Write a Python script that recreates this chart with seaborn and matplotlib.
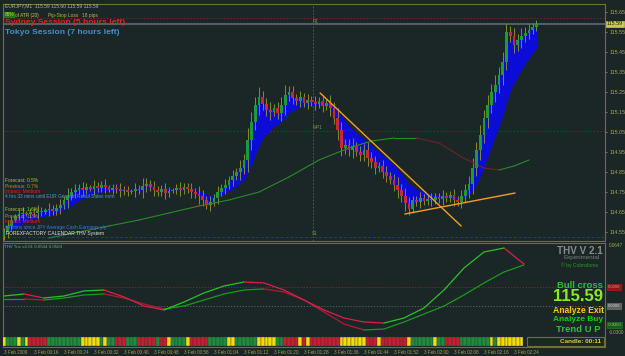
import numpy as np
import pandas as pd
import matplotlib
matplotlib.use('Agg')
import matplotlib.pyplot as plt
import matplotlib.transforms as mtransforms
from matplotlib.patches import Rectangle
import seaborn as sns

# ---------------- data ----------------
closes = [
    114.55, 114.58, 114.61, 114.63, 114.64,
    114.645, 114.64, 114.65, 114.645, 114.655, 114.65,
    114.66, 114.665, 114.655, 114.67, 114.685, 114.71,
    114.73, 114.75, 114.76, 114.77, 114.76,
    114.775, 114.765, 114.78, 114.77, 114.785, 114.775, 114.76, 114.77, 114.765, 114.755,
    114.76, 114.75, 114.755, 114.765, 114.76,
    114.78, 114.79, 114.775, 114.76, 114.75, 114.765, 114.745, 114.755, 114.76, 114.77,
    114.76, 114.775, 114.765, 114.75, 114.74, 114.73,
    114.71, 114.685, 114.70, 114.72,
    114.75, 114.77, 114.785, 114.81, 114.83, 114.85, 114.87, 114.91,
    115.01, 115.10, 115.185, 115.225,
    115.19, 115.16, 115.15, 115.17, 115.145,
    115.185, 115.235, 115.25, 115.22,
    115.205, 115.225, 115.195, 115.21, 115.20,
    115.19, 115.205, 115.18, 115.195, 115.17,
    115.12, 115.06, 114.97, 114.985,
    114.96, 114.98, 114.95, 114.935, 114.96, 114.92,
    114.90, 114.87, 114.88, 114.85,
    114.83, 114.81, 114.785, 114.76,
    114.73, 114.695, 114.665,
    114.71, 114.70, 114.72, 114.705, 114.715, 114.71, 114.725, 114.715,
    114.73, 114.72, 114.735, 114.71, 114.70,
    114.73, 114.76, 114.79,
    114.87, 114.96, 115.035,
    115.12, 115.185, 115.25,
    115.285, 115.335, 115.40,
    115.55, 115.53, 115.485,
    115.51, 115.53, 115.545,
    115.56, 115.575, 115.59,
]
first_open = 114.53
wick_pips = [
    2, 3, 2, 1, 2, 3, 1, 2, 2, 3,
    2, 1, 3, 2, 2, 3, 2, 4, 2, 3,
    2, 3, 2, 1, 3, 2, 2, 3, 1, 2,
    2, 3, 2, 2, 1, 3, 2, 4, 3, 2,
    3, 2, 2, 3, 2, 1, 2, 3, 2, 2,
    3, 2, 4, 3, 2, 3, 2, 3, 2, 3,
    2, 3, 2, 4, 3, 6, 5, 4, 5, 3,
    3, 4, 2, 3, 4, 5, 3, 3, 2, 3,
    2, 3, 2, 3, 2, 3, 2, 4, 3, 5,
    4, 3, 3, 4, 2, 3, 3, 4, 3, 3,
    2, 3, 3, 2, 3, 4, 3, 4, 3, 2,
    2, 3, 2, 2, 3, 2, 2, 3, 2, 2,
    3, 2, 3, 3, 4, 5, 4, 5, 4, 5,
    4, 5, 4, 5, 4, 3, 4, 3, 4, 3,
    3, 2, 2,
]
ma_idx = [12, 20, 28, 36, 44, 52, 60, 68, 76, 84, 92, 98, 104, 110, 116, 122, 128, 132, 136, 140]
ma_vals = [114.52, 114.55, 114.58, 114.61, 114.645, 114.68, 114.71, 114.75, 114.825, 114.91,
           114.97, 115.005, 115.02, 115.02, 114.995, 114.925, 114.87, 114.86, 114.88, 114.91]

trix_fast = [0.0105, 0.0126, 0.0084, 0.0105, 0.0158, 0.0168, 0.0095, 0.0, -0.0042, 0.0042,
             0.0137, 0.0210, 0.0252, 0.0242, 0.0168, 0.0063, -0.0042, -0.0126, -0.0168, -0.0179,
             -0.0126, -0.0021, 0.0168, 0.0399, 0.0567, 0.0609, 0.0441]
trix_slow = [0.0074, 0.0074, 0.0063, 0.0084, 0.0116, 0.0126, 0.0084, 0.0021, -0.0032, 0.0,
             0.0063, 0.0126, 0.0168, 0.0179, 0.0147, 0.0063, -0.0063, -0.0189, -0.0252, -0.0242,
             -0.0168, -0.0084, 0.0, 0.0116, 0.0242, 0.0357, 0.0431]

strip_runs = [('Y', 1), ('G', 3), ('Y', 1), ('G', 1), ('Y', 1), ('R', 5), ('G', 9), ('Y', 5),
              ('G', 1), ('Y', 1), ('G', 2), ('R', 3), ('G', 3), ('R', 5), ('G', 1), ('R', 2),
              ('Y', 1), ('G', 4), ('Y', 1), ('R', 5), ('G', 5), ('Y', 2), ('G', 6), ('Y', 5),
              ('G', 2), ('R', 4), ('Y', 1), ('R', 1), ('Y', 1), ('R', 8), ('Y', 7), ('R', 3),
              ('Y', 1), ('R', 7), ('Y', 1), ('G', 6), ('Y', 1), ('G', 2), ('R', 4), ('G', 8),
              ('Y', 1), ('G', 1), ('Y', 7)]

date_labels = ["3 Feb 2009", "3 Feb 00:16", "3 Feb 00:24", "3 Feb 00:32", "3 Feb 00:40",
               "3 Feb 00:48", "3 Feb 00:56", "3 Feb 01:04", "3 Feb 01:12", "3 Feb 01:20",
               "3 Feb 01:28", "3 Feb 01:36", "3 Feb 01:44", "3 Feb 01:52", "3 Feb 02:00",
               "3 Feb 02:08", "3 Feb 02:16", "3 Feb 02:24"]
price_ticks = [115.65, 115.55, 115.45, 115.35, 115.25, 115.15, 115.05,
               114.95, 114.85, 114.75, 114.65, 114.55]
last_price = 115.59
r1_level, mp_level, s1_level = 115.62, 115.055, 114.525
sep_idx = 82.4
trend1_idx, trend1_px = [84.3, 121.9], [115.245, 114.58]
trend2_idx, trend2_px = [106.9, 136.3], [114.64, 114.745]
trix_levels = [0.02, 0.0]

# ---------------- style ----------------
BG = '#1b2727'
OLIVE = '#707030'
sns.set_theme(style='dark', rc={'axes.facecolor': BG, 'figure.facecolor': BG})
plt.rcParams['font.family'] = ['Liberation Sans', 'DejaVu Sans']

W, H = 625, 356
fig = plt.figure(figsize=(W / 100, H / 100), dpi=100)
fig.patch.set_facecolor(BG)

ax = fig.add_axes([3 / W, 1 - 241 / H, 602 / W, 237 / H])
axl = fig.add_axes([3 / W, 1 - 347 / H, 602 / W, 104 / H], sharex=ax)
for a in (ax, axl):
    a.set_facecolor(BG)
    for s in a.spines.values():
        s.set_color(OLIVE)
        s.set_linewidth(0.8)
    a.grid(False)

# ---------------- main panel ----------------
idx = np.arange(len(closes))
c = np.array(closes)
o = np.array([first_open] + closes[:-1])
w = np.array(wick_pips) * 0.01
hi = np.maximum(o, c) + w
lo = np.minimum(o, c) - w

s = pd.Series(c)
band_fast = s.ewm(span=2, adjust=False).mean().values
band_slow = s.ewm(span=11, adjust=False).mean().values
ax.fill_between(idx, band_fast, band_slow, color='#0c0cd8', lw=0.6, edgecolor='#0c0cd8', zorder=2)

ax.vlines(idx, lo, hi, color='#9a9a30', lw=0.6, zorder=3)
up = c >= o
body = np.maximum(np.abs(c - o), 0.003)
ax.bar(idx, body, bottom=np.minimum(o, c), width=0.72,
       color=np.where(up, '#1c9a3c', '#c8283c'), lw=0, zorder=4)

# moving average with slope colouring
ma_x = np.array(ma_idx, dtype=float)
ma_y = np.array(ma_vals)
for k in range(len(ma_x) - 1):
    col = '#2a8a2a' if ma_y[k + 1] >= ma_y[k] else '#6e2424'
    sns.lineplot(x=ma_x[k:k + 2], y=ma_y[k:k + 2], ax=ax, color=col, lw=0.8,
                 legend=False, sort=False, estimator=None, zorder=3)

# levels
ax.axhline(last_price, color='#56666c', lw=1.3, zorder=1)
ax.axhline(r1_level, color='#7a2626', lw=0.6, ls=(0, (2, 2)), zorder=1)
ax.axhline(mp_level, color='#6a2a2a', lw=0.6, ls=(0, (2, 2)), zorder=1)
ax.axhline(s1_level, color='#2030c8', lw=0.7, ls=(0, (3, 2)), zorder=1)
ax.axvline(sep_idx, color='#56606a', lw=0.6, ls=(0, (2, 2)), zorder=1)
ax.text(sep_idx - 0.2, r1_level - 0.005, 'R1', fontsize=3.4, color='#8a8a40', va='top')
ax.text(sep_idx - 0.2, mp_level + 0.005, 'MP1', fontsize=3.4, color='#8a8a40', va='bottom')
ax.text(sep_idx - 0.2, s1_level + 0.003, 'S1', fontsize=3.4, color='#8a8a40', va='bottom')

# trend lines
for tx_, ty_ in ((trend1_idx, trend1_px), (trend2_idx, trend2_px)):
    sns.lineplot(x=tx_, y=ty_, ax=ax, color='#f0a020', lw=1.0, legend=False,
                 sort=False, estimator=None, zorder=5)

xl = (3 - 4) / 3.75
xr = (605 - 4) / 3.75
ax.set_xlim(xl, xr)
ax.set_ylim(115.71 - 241 / 200, 115.71 - 4 / 200)
ax.set_xlabel('')
ax.set_ylabel('')
ax.yaxis.tick_right()
ax.set_yticks(price_ticks)
ax.set_yticklabels([f'{v:.2f}' for v in price_ticks])
ax.tick_params(axis='y', labelsize=3.8, colors='#a8a860', length=1.5, pad=1.5, width=0.5)
ax.tick_params(axis='x', bottom=False, labelbottom=False)
ax.text(1.003, last_price, f'{last_price:.2f}', transform=ax.get_yaxis_transform(),
        fontsize=3.8, color='#202010', va='center', ha='left',
        bbox=dict(fc='#c8c850', ec='#e0e060', pad=0.6, lw=0.4))

# ---------------- lower panel ----------------
tx = np.linspace(0, 26 * 20 / 3.75, len(trix_fast))


def plot_dir(a, x, y, up_c, dn_c, lw):
    y = np.asarray(y)
    d = np.diff(y) >= 0
    start = 0
    for k in range(1, len(d) + 1):
        if k == len(d) or d[k] != d[start]:
            sl = slice(start, k + 1)
            sns.lineplot(x=x[sl], y=y[sl], ax=a, color=up_c if d[start] else dn_c, lw=lw,
                         legend=False, sort=False, estimator=None, zorder=4)
            start = k


plot_dir(axl, tx, trix_slow, '#1a9a1a', '#b01c34', 0.9)
plot_dir(axl, tx, trix_fast, '#2cc02c', '#d8204a', 0.9)
axl.axhline(trix_levels[0], color='#8a2a2a', lw=0.6, ls=(0, (1.5, 2)), zorder=1)
axl.axhline(trix_levels[1], color='#606868', lw=0.6, ls=(0, (1.5, 2)), zorder=1)

ylo, yhi = (306 - 347) * 0.00105, (306 - 243) * 0.00105
axl.set_ylim(ylo, yhi)
axl.set_xlim(xl, xr)
axl.set_xlabel('')
axl.set_ylabel('')

# colour strip
cmap = {'Y': '#f2dc10', 'G': '#1e8c3c', 'R': '#c42030'}
strip = ''.join(ch * n for ch, n in strip_runs)
sb = ylo + 0.008 * (yhi - ylo)
st = ylo + 0.095 * (yhi - ylo)
axl.bar(np.arange(len(strip)), st - sb, bottom=sb, width=1.0,
        color=[cmap[ch] for ch in strip], edgecolor='#2a3030', lw=0.25, zorder=5)
axl.add_patch(Rectangle(((527 - 3) / 602, 0.008), 1 - (527 - 3) / 602 - 0.002, 0.087,
                        transform=axl.transAxes, fc=BG, ec=OLIVE, lw=0.8, zorder=6))

axl.set_xticks(np.arange(len(date_labels)) * 8)
axl.set_xticklabels(date_labels, ha='left')
axl.tick_params(axis='x', labelsize=3.3, colors='#a0a060', length=1.5, pad=1, width=0.5)
axl.set_yticks([])

# ---------------- texts ----------------
def ftext(x, y, s, **kw):
    fig.text(x / W, 1 - y / H, s, va='center', **kw)


ftext(5, 5.5, 'EURJPY,M1  115.59 115.60 115.59 115.59', fontsize=3.6, color='#b0b0b0')
ftext(5, 15, '86%', fontsize=3.4, color='#d0d050',
      bbox=dict(fc='#1a7a1a', ec='none', pad=0.4))
ftext(15, 15, 'of ATR (20)', fontsize=3.4, color='#c8c850')
ftext(48, 15, 'Pip-Stop Loss', fontsize=3.4, color='#b8b840')
ftext(82, 15, '18 pips', fontsize=3.4, color='#b8b840')
ftext(5, 22, 'Sydney Session (5 hours left)', fontsize=6.1, fontweight='bold', color='#e02424')
ftext(5, 32, 'Tokyo Session (7 hours left)', fontsize=6.1, fontweight='bold', color='#4a8cc8')

news = [
    (180, 'Forecast: 0.5%', '#b0c040'),
    (186, 'Previous: 0.7%', '#d08020'),
    (191.5, 'Impact: Medium', '#e02020'),
    (197, '4 hrs 33 mins until EUR German Retail Sales m/m', '#40a0d0'),
    (209.5, 'Forecast: 1.6%', '#b0c040'),
    (216, 'Previous: 1.3%', '#d08020'),
    (222, 'Impact: Medium', '#e02020'),
    (227.5, '44 mins since JPY Average Cash Earnings y/y', '#3a7ae0'),
]
for y, t, col in news:
    ftext(5, y, t, fontsize=3.5, color=col)
ftext(6, 233.5, 'FOREXFACTORY CALENDAR THV System', fontsize=3.6, color='#e0e0e0')

ftext(4, 246.5, 'THV Trix v4.01 0.0504 0.0504', fontsize=3.2, color='#a0a040')
ftext(603, 250.5, 'THV V 2.1', fontsize=7.1, fontweight='bold', color='#8a8a8a', ha='right')
ftext(600, 257.5, 'Experimental', fontsize=4.5, color='#7a7a7a', ha='right')
ftext(598, 265, '\u00a9 by Cobraforex', fontsize=3.6, color='#2a9a2a', ha='right')
ftext(603, 285.5, 'Bull cross', fontsize=6.8, fontweight='bold', color='#30c030', ha='right')
ftext(603.5, 296.5, '115.59', fontsize=12, fontweight='bold', color='#88ee22', ha='right')
ftext(604, 310.5, 'Analyze Exit', fontsize=6.2, fontweight='bold', color='#f0d020', ha='right')
ftext(603, 319.5, 'Analyze Buy', fontsize=6.0, fontweight='bold', color='#10d010', ha='right')
ftext(601, 329.5, 'Trend U P', fontsize=6.8, fontweight='bold', color='#30c030', ha='right')
ftext(601, 341.5, 'Candle: 00:11', fontsize=4.6, fontweight='bold', color='#d8d040', ha='right')

ftext(609, 245.5, '0.0647', fontsize=3.3, color='#a8a860')
ftext(608, 287, '0.0200', fontsize=3.0, color='#e09090', bbox=dict(fc='#8a1a1a', ec='#b02020', pad=0.4, lw=0.4))
ftext(608, 306, '0.0000', fontsize=3.0, color='#d0d0d0', bbox=dict(fc='#606060', ec='#808080', pad=0.4, lw=0.4))
ftext(608, 325, '-0.0200', fontsize=3.0, color='#90d090', bbox=dict(fc='#1a5a1a', ec='#208a20', pad=0.4, lw=0.4))
ftext(609, 333, '-0.0300', fontsize=3.3, color='#a8a860')

fig.savefig('out.png', dpi=100, facecolor=BG)
